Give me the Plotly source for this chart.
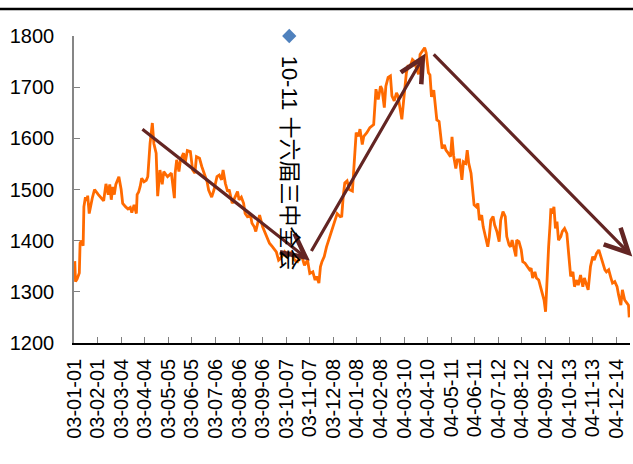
import plotly.graph_objects as go

# Daily index closes, 2003
dates_2003 = [
    "2003-01-02", "2003-01-03", "2003-01-05", "2003-01-08", "2003-01-09", "2003-01-11",
    "2003-01-13", "2003-01-14", "2003-01-16", "2003-01-18", "2003-01-19", "2003-01-21",
    "2003-01-25", "2003-01-28", "2003-02-02", "2003-02-06", "2003-02-09", "2003-02-12",
    "2003-02-15", "2003-02-17", "2003-02-19", "2003-02-21", "2003-02-23", "2003-02-25",
    "2003-03-01", "2003-03-04", "2003-03-06", "2003-03-10", "2003-03-13", "2003-03-16",
    "2003-03-18", "2003-03-21", "2003-03-24", "2003-03-25", "2003-03-27", "2003-03-29",
    "2003-03-31", "2003-04-03", "2003-04-06", "2003-04-08", "2003-04-11", "2003-04-14",
    "2003-04-16", "2003-04-19", "2003-04-21", "2003-04-24", "2003-04-27", "2003-04-29",
    "2003-05-04", "2003-05-09", "2003-05-13", "2003-05-14", "2003-05-16", "2003-05-19",
    "2003-05-21", "2003-05-25", "2003-05-27", "2003-05-30", "2003-06-03", "2003-06-06",
    "2003-06-09", "2003-06-11", "2003-06-15", "2003-06-18", "2003-06-21", "2003-06-25",
    "2003-06-27", "2003-07-01", "2003-07-04", "2003-07-08", "2003-07-11", "2003-07-14",
    "2003-07-16", "2003-07-19", "2003-07-22", "2003-07-24", "2003-07-28", "2003-07-31",
    "2003-08-04", "2003-08-06", "2003-08-09", "2003-08-12", "2003-08-14", "2003-08-17",
    "2003-08-21", "2003-08-23", "2003-08-26", "2003-08-28", "2003-08-31", "2003-09-02",
    "2003-09-06", "2003-09-11", "2003-09-15", "2003-09-19", "2003-09-24", "2003-09-27",
    "2003-09-30", "2003-10-05", "2003-10-09", "2003-10-13", "2003-10-18", "2003-10-22",
    "2003-10-27", "2003-10-31", "2003-11-04", "2003-11-07", "2003-11-11", "2003-11-14",
    "2003-11-16", "2003-11-19", "2003-11-21", "2003-11-23", "2003-11-26", "2003-11-29",
    "2003-12-03", "2003-12-06", "2003-12-10", "2003-12-13", "2003-12-17", "2003-12-19",
    "2003-12-21", "2003-12-23", "2003-12-26", "2003-12-29",
]
close_2003 = [
    1360, 1320, 1325, 1337, 1395, 1400, 1390, 1466, 1485, 1478, 1488, 1453,
    1483, 1500, 1490, 1483, 1478, 1511, 1490, 1510, 1480, 1505, 1490, 1510,
    1525, 1500, 1473, 1466, 1462, 1465, 1455, 1470, 1453, 1490, 1495, 1506,
    1522, 1515, 1518, 1525, 1590, 1630, 1590, 1571, 1487, 1538, 1510, 1535,
    1525, 1532, 1483, 1532, 1558, 1535, 1558, 1571, 1551, 1576, 1574, 1538,
    1532, 1564, 1561, 1545, 1532, 1515, 1499, 1485, 1499, 1525, 1528, 1519,
    1538, 1512, 1496, 1500, 1473, 1483, 1496, 1480, 1485, 1473, 1453, 1447,
    1450, 1434, 1427, 1418, 1440, 1450, 1427, 1408, 1395, 1388, 1378, 1362,
    1366, 1378, 1369, 1378, 1362, 1359, 1372, 1352, 1362, 1336, 1339, 1323,
    1330, 1317, 1349, 1359, 1369, 1388, 1408, 1421, 1440, 1453, 1447, 1448,
    1487, 1513, 1517, 1500,
]

# Daily index closes, 2004
dates_2004 = [
    "2004-01-02", "2004-01-04", "2004-01-07", "2004-01-10", "2004-01-12", "2004-01-15",
    "2004-01-17", "2004-01-21", "2004-01-25", "2004-01-30", "2004-02-01", "2004-02-02",
    "2004-02-05", "2004-02-08", "2004-02-10", "2004-02-13", "2004-02-15", "2004-02-18",
    "2004-02-21", "2004-02-23", "2004-02-26", "2004-02-29", "2004-03-02", "2004-03-05",
    "2004-03-07", "2004-03-10", "2004-03-13", "2004-03-15", "2004-03-18", "2004-03-21",
    "2004-03-23", "2004-03-26", "2004-03-29", "2004-03-31", "2004-04-04", "2004-04-06",
    "2004-04-08", "2004-04-11", "2004-04-13", "2004-04-15", "2004-04-18", "2004-04-20",
    "2004-04-22", "2004-04-25", "2004-04-27", "2004-04-29", "2004-05-02", "2004-05-04",
    "2004-05-07", "2004-05-10", "2004-05-12", "2004-05-14", "2004-05-17", "2004-05-19",
    "2004-05-22", "2004-05-25", "2004-05-27", "2004-05-30", "2004-06-01", "2004-06-03",
    "2004-06-06", "2004-06-08", "2004-06-10", "2004-06-13", "2004-06-15", "2004-06-17",
    "2004-06-20", "2004-06-22", "2004-06-25", "2004-06-28", "2004-06-30", "2004-07-02",
    "2004-07-05", "2004-07-07", "2004-07-10", "2004-07-13", "2004-07-15", "2004-07-18",
    "2004-07-21", "2004-07-23", "2004-07-26", "2004-07-28", "2004-07-30", "2004-08-02",
    "2004-08-04", "2004-08-05", "2004-08-08", "2004-08-11", "2004-08-13", "2004-08-16",
    "2004-08-19", "2004-08-22", "2004-08-24", "2004-08-26", "2004-08-29", "2004-08-31",
    "2004-09-03", "2004-09-05", "2004-09-07", "2004-09-10", "2004-09-12", "2004-09-14",
    "2004-09-16", "2004-09-18", "2004-09-19", "2004-09-21", "2004-09-23", "2004-09-25",
    "2004-09-27", "2004-09-29", "2004-10-02", "2004-10-04", "2004-10-07", "2004-10-10",
    "2004-10-12", "2004-10-15", "2004-10-18", "2004-10-20", "2004-10-23", "2004-10-25",
    "2004-10-28", "2004-10-31", "2004-11-02", "2004-11-05", "2004-11-07", "2004-11-10",
    "2004-11-13", "2004-11-15", "2004-11-18", "2004-11-21", "2004-11-23", "2004-11-26",
    "2004-11-29", "2004-12-01", "2004-12-04", "2004-12-07", "2004-12-09", "2004-12-12",
    "2004-12-15", "2004-12-17", "2004-12-20", "2004-12-22", "2004-12-25", "2004-12-28",
    "2004-12-30", "2004-12-31",
]
close_2004 = [
    1497, 1552, 1611, 1604, 1618, 1588, 1604, 1611, 1621, 1627, 1670, 1696,
    1676, 1702, 1696, 1660, 1702, 1719, 1722, 1683, 1673, 1689, 1683, 1657,
    1637, 1683, 1728, 1741, 1741, 1754, 1751, 1738, 1725, 1764, 1774, 1777,
    1767, 1728, 1724, 1681, 1694, 1662, 1636, 1633, 1603, 1580, 1587, 1577,
    1571, 1564, 1603, 1567, 1541, 1558, 1558, 1519, 1554, 1551, 1577, 1551,
    1532, 1506, 1470, 1466, 1473, 1440, 1450, 1427, 1408, 1388, 1408, 1440,
    1447, 1431, 1418, 1398, 1440, 1457, 1447, 1408, 1392, 1388, 1401, 1385,
    1369, 1401, 1398, 1382, 1359, 1356, 1350, 1343, 1346, 1327, 1339, 1327,
    1323, 1313, 1304, 1284, 1261, 1330, 1388, 1434, 1463, 1453, 1466, 1424,
    1437, 1401, 1408, 1418, 1424, 1414, 1382, 1330, 1339, 1310, 1323, 1313,
    1333, 1310, 1327, 1310, 1304, 1349, 1369, 1362, 1375, 1382, 1372, 1359,
    1343, 1339, 1343, 1327, 1317, 1320, 1310, 1294, 1274, 1304, 1284, 1278,
    1274, 1250,
]

# Category tick labels (every 31 days)
tick_labels = [
    "03-01-01", "03-02-01", "03-03-04", "03-04-04", "03-05-05", "03-06-05",
    "03-07-06", "03-08-06", "03-09-06", "03-10-07", "03-11-07", "03-12-08",
    "04-01-08", "04-02-08", "04-03-10", "04-04-10", "04-05-11", "04-06-11",
    "04-07-12", "04-08-12", "04-09-12", "04-10-13", "04-11-13", "04-12-14",
]

# Event marker
event_date = "2003-10-11"
event_value = 1800
event_text = "10-11 十六届三中全会"

# Trend arrows: (tail date, tail value, head date, head value)
trend_arrows = [
    ("2003-03-30", 1620, "2003-11-07", 1361),
    ("2003-11-08", 1377, "2004-04-07", 1766),
    ("2004-04-16", 1767, "2005-01-04", 1369),
]

dates = dates_2003 + dates_2004
closes = close_2003 + close_2004
tick_vals = ["20" + t for t in tick_labels]

fig = go.Figure()
fig.add_trace(go.Scatter(
    x=dates, y=closes, mode="lines",
    line=dict(color="#FF6A00", width=2.8),
    showlegend=False, hoverinfo="skip",
))
fig.add_trace(go.Scatter(
    x=[event_date], y=[event_value], mode="markers",
    marker=dict(symbol="diamond", size=11, color="#4F81BD"),
    cliponaxis=False, showlegend=False,
))

annotations = []
for tx, ty, hx, hy in trend_arrows:
    annotations.append(dict(
        x=hx, y=hy, ax=tx, ay=ty,
        xref="x", yref="y", axref="x", ayref="y",
        text="", showarrow=True,
        arrowhead=5, arrowsize=1.45, arrowwidth=3.2, arrowcolor="#632523",
    ))
annotations.append(dict(
    x=event_date, y=1552, xref="x", yref="y",
    text=event_text, showarrow=False, textangle=90,
    font=dict(family="Liberation Sans, Noto Sans CJK SC", size=22, color="#000000"),
    xanchor="center", yanchor="middle",
))

fig.update_layout(
    width=633, height=464,
    margin=dict(l=74, r=3, t=36, b=121),
    paper_bgcolor="white", plot_bgcolor="white",
    font=dict(family="Liberation Sans, Arial, sans-serif", color="#000000"),
    annotations=annotations,
    shapes=[dict(
        type="line", xref="paper", yref="paper",
        x0=-74 / 556, x1=559 / 556, y0=1.088, y1=1.088,
        line=dict(color="#000000", width=2.5),
    )],
)
fig.update_xaxes(
    type="date", range=["2003-01-01", "2005-01-01"],
    tickmode="array", tickvals=tick_vals, ticktext=tick_labels,
    tickangle=-90, tickfont=dict(size=20),
    ticks="inside", ticklen=6, tickcolor="#808080", tickwidth=1,
    showline=True, linecolor="#000000", linewidth=1.5,
    showgrid=False, zeroline=False, ticklabelstandoff=6,
)
fig.update_yaxes(
    range=[1200, 1800], dtick=100, tickfont=dict(size=20),
    ticks="inside", ticklen=6, tickcolor="#808080", tickwidth=1,
    showline=True, linecolor="#868686", linewidth=1.5,
    showgrid=False, zeroline=False, ticklabelstandoff=14,
)

fig.write_html("out.html")
